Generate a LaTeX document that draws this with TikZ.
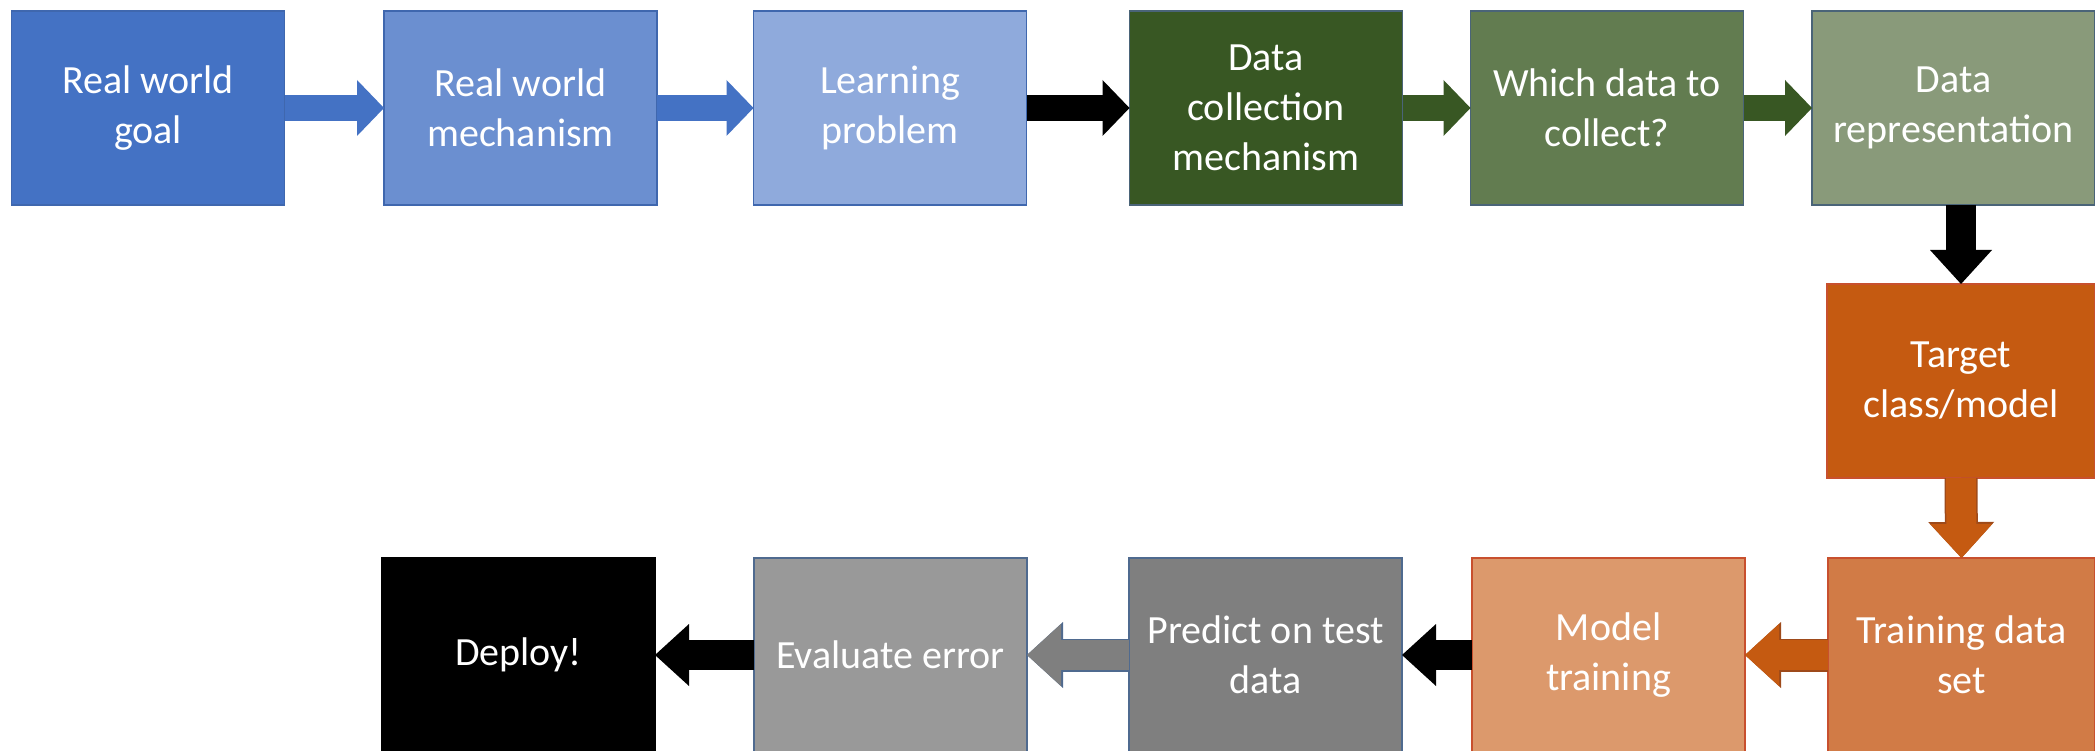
\documentclass[tikz,border=0pt]{standalone}
\usepackage{fontspec}
\setmainfont{Carlito}
\usetikzlibrary{arrows.meta}
\definecolor{cbA}{HTML}{4472C4}
\definecolor{cbB}{HTML}{6B8FD0}
\definecolor{cbC}{HTML}{8FAADC}
\definecolor{cbO}{HTML}{3F67AE}
\definecolor{cgA}{HTML}{385723}
\definecolor{cgB}{HTML}{627C50}
\definecolor{cgC}{HTML}{899A7A}
\definecolor{cgO}{HTML}{4A6478}
\definecolor{coA}{HTML}{C55A11}
\definecolor{coB}{HTML}{D17B46}
\definecolor{coC}{HTML}{DC996C}
\definecolor{coO}{HTML}{C8502E}
\definecolor{coArO}{HTML}{9E4A1A}
\definecolor{cyA}{HTML}{7F7F7F}
\definecolor{cyB}{HTML}{999999}
\definecolor{cyO}{HTML}{4F6A8F}
\begin{document}
\begin{tikzpicture}[x=1pt,y=-1pt,
  box/.style={rectangle, inner sep=0pt, outer sep=0pt, minimum height=194pt,
    minimum width=273pt, align=center, text=white,
    font=\fontsize{40}{50}\selectfont, line width=1.2pt},
  arrS/.style={line width=26pt, -{Triangle[width=56pt,length=27pt,line width=0pt]}},
  arrL/.style={line width=30pt, -{Triangle[width=62pt,length=34pt,line width=0pt]}},
  arrLo/.style={line width=33pt, -{Triangle[width=66pt,length=36pt,line width=0pt]}}]
\useasboundingbox (0,0) rectangle (2095,751);
% top row
\node[box, fill=cbA, draw=cbO] (goal) at (148,108) {Real world\\goal};
\node[box, fill=cbB, draw=cbO] (mech) at (520.5,108) {Real world\\mechanism};
\node[box, fill=cbC, draw=cbO] (learn) at (890,108) {Learning\\problem};
\node[box, fill=cgA, draw=cgO] (coll) at (1266,108) {Data\\collection\\mechanism};
\node[box, fill=cgB, draw=cgO] (which) at (1607,108) {Which data to\\collect?};
\node[box, fill=cgC, draw=cgO, minimum width=283pt] (rep) at (1953.5,108) {Data\\representation};
% right column
\node[box, fill=coA, draw=coO, minimum width=268pt] (tgt) at (1961,381) {Target\\class/model};
% bottom row
\node[box, fill=coB, draw=coO, minimum width=267pt] (train) at (1961.5,655) {Training data\\set};
\node[box, fill=coC, draw=coO] (model) at (1608.5,655) {Model\\training};
\node[box, fill=cyA, draw=cyO] (pred) at (1265.5,655) {Predict on test\\data};
\node[box, fill=cyB, draw=cyO] (eval) at (890.5,655) {Evaluate error};
\node[box, fill=black, draw=black] (dep) at (518.5,655) {Deploy!};
% connectors
\draw[arrS, draw=cbA] (goal.east) -- (mech.west);
\draw[arrS, draw=cbA] (mech.east) -- (learn.west);
\draw[arrS, draw=black] (learn.east) -- (coll.west);
\draw[arrS, draw=cgA] (coll.east) -- (which.west);
\draw[arrS, draw=cgA] (which.east) -- (rep.west);
\draw[arrL, draw=black] (rep.south -| tgt.north) -- (tgt.north);
\draw[arrLo, draw=coArO] (tgt.south) -- (train.north);
\draw[arrL, draw=coA] (tgt.south) -- (train.north);
\draw[arrLo, draw=coArO] (train.west) -- (model.east);
\draw[arrL, draw=coA] (train.west) -- (model.east);
\draw[arrL, draw=black] (model.west) -- (pred.east);
\draw[arrLo, draw=cyO] (pred.west) -- (eval.east);
\draw[arrL, draw=cyA] (pred.west) -- (eval.east);
\draw[arrL, draw=black] (eval.west) -- (dep.east);
\end{tikzpicture}
\end{document}
